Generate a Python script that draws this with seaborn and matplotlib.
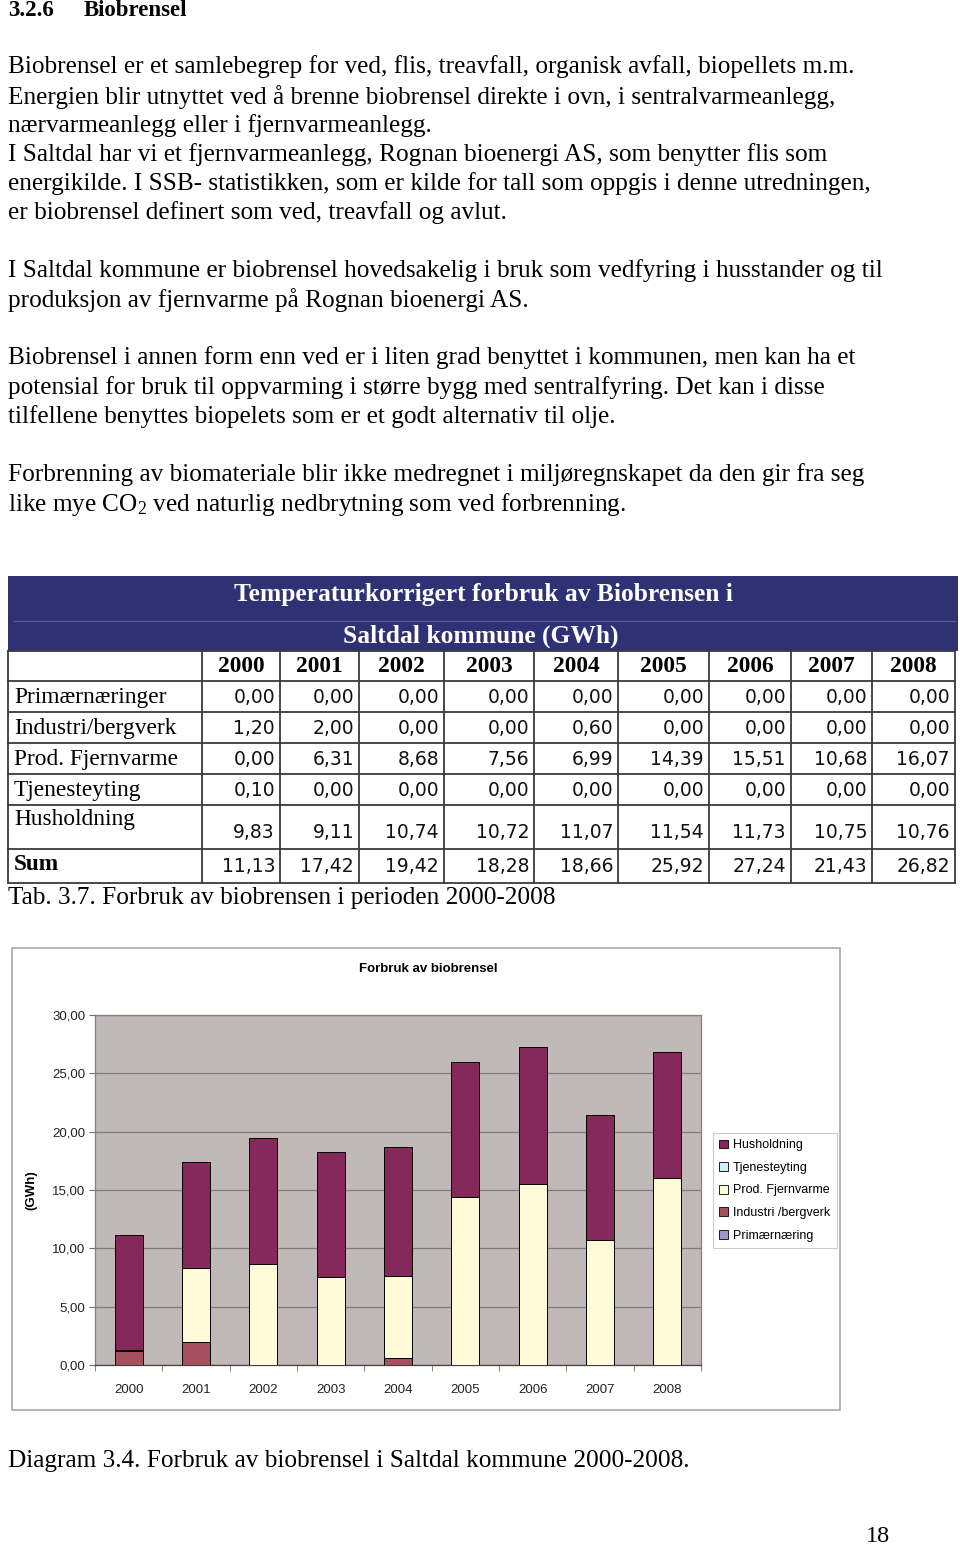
import numpy as np
import pandas as pd
import matplotlib
matplotlib.use("Agg")
import matplotlib.pyplot as plt
import seaborn as sns
from matplotlib.patches import Rectangle, Patch

# ---------------- data ----------------
years = ["2000", "2001", "2002", "2003", "2004", "2005", "2006", "2007", "2008"]
primaernaring = [0.00, 0.00, 0.00, 0.00, 0.00, 0.00, 0.00, 0.00, 0.00]
industri = [1.20, 2.00, 0.00, 0.00, 0.60, 0.00, 0.00, 0.00, 0.00]
fjernvarme = [0.00, 6.31, 8.68, 7.56, 6.99, 14.39, 15.51, 10.68, 16.07]
tjenesteyting = [0.10, 0.00, 0.00, 0.00, 0.00, 0.00, 0.00, 0.00, 0.00]
husholdning = [9.83, 9.11, 10.74, 10.72, 11.07, 11.54, 11.73, 10.75, 10.76]
sums = [11.13, 17.42, 19.42, 18.28, 18.66, 25.92, 27.24, 21.43, 26.82]

table_labels = ["Primærnæringer", "Industri/bergverk", "Prod. Fjernvarme",
                "Tjenesteyting", "Husholdning"]
legend_labels = ["Primærnæring", "Industri /bergverk", "Prod. Fjernvarme",
                 "Tjenesteyting", "Husholdning"]
yticks = [0, 5, 10, 15, 20, 25, 30]

heading_num = "3.2.6"
heading = "Biobrensel"
paragraph_lines = [
    "Biobrensel er et samlebegrep for ved, flis, treavfall, organisk avfall, biopellets m.m.",
    "Energien blir utnyttet ved å brenne biobrensel direkte i ovn, i sentralvarmeanlegg,",
    "nærvarmeanlegg eller i fjernvarmeanlegg.",
    "I Saltdal har vi et fjernvarmeanlegg, Rognan bioenergi AS, som benytter flis som",
    "energikilde. I SSB- statistikken, som er kilde for tall som oppgis i denne utredningen,",
    "er biobrensel definert som ved, treavfall og avlut.",
    "I Saltdal kommune er biobrensel hovedsakelig i bruk som vedfyring i husstander og til",
    "produksjon av fjernvarme på Rognan bioenergi AS.",
    "Biobrensel i annen form enn ved er i liten grad benyttet i kommunen, men kan ha et",
    "potensial for bruk til oppvarming i større bygg med sentralfyring. Det kan i disse",
    "tilfellene benyttes biopelets som er et godt alternativ til olje.",
    "Forbrenning av biomateriale blir ikke medregnet i miljøregnskapet da den gir fra seg",
    "like mye CO$_{2}$ ved naturlig nedbrytning som ved forbrenning.",
]
table_title1 = "Temperaturkorrigert forbruk av Biobrensen i"
table_title2 = "Saltdal kommune (GWh)"
table_caption = "Tab. 3.7. Forbruk av biobrensen i perioden 2000-2008"
chart_title = "Forbruk av biobrensel"
y_label = "(GWh)"
diagram_caption = "Diagram 3.4. Forbruk av biobrensel i Saltdal kommune 2000-2008."
page_number = "18"

# ---------------- styles / layout ----------------
plt.rcParams["mathtext.fontset"] = "custom"
plt.rcParams["mathtext.rm"] = "Liberation Serif"
plt.rcParams["mathtext.it"] = "Liberation Serif"
SERIF = ["Liberation Serif", "DejaVu Serif"]
SANS = ["Liberation Sans", "DejaVu Sans"]
NUM = ["DejaVu Sans"]

colors = {"Primærnæring": "#9c98cc", "Industri /bergverk": "#a64f5f",
          "Prod. Fjernvarme": "#fffbd8", "Tjenesteyting": "#cdeefa",
          "Husholdning": "#85295a"}

W, H = 960, 1548
fig = plt.figure(figsize=(W / 100, H / 100), dpi=100)
page = fig.add_axes([0, 0, 1, 1])
page.set_xlim(0, W)
page.set_ylim(H, 0)
page.axis("off")

# heading and paragraphs
page.text(8, 10, heading_num, family=SERIF, weight="bold", fontsize=16.5, va="center")
page.text(84, 10, heading, family=SERIF, weight="bold", fontsize=16.5, va="center")
line_y = [67, 97, 126, 155, 184, 213, 271, 300, 358, 388, 417, 475, 504]
for yy, s in zip(line_y, paragraph_lines):
    page.text(8, yy, s, family=SERIF, fontsize=18.2, va="center")

# ---------------- table ----------------
col_edges = [8, 202, 280, 359, 444, 534, 618, 709, 791, 872, 955]
row_edges = [651, 681, 712, 743, 774, 805, 849, 883]
page.add_patch(Rectangle((8, 576), 950, 651 - 576, fc="#2e3173", ec="none"))
page.plot([14, 955], [621, 621], color="#5c609a", lw=0.8)
page.text(483, 594, table_title1, family=SERIF, weight="bold", fontsize=18.4,
          color="white", ha="center", va="center")
page.text(481, 636, table_title2, family=SERIF, weight="bold", fontsize=18.4,
          color="white", ha="center", va="center")
grid_col = "#3a3a3a"
for xe in col_edges:
    page.plot([xe, xe], [row_edges[0], row_edges[-1]], color=grid_col, lw=1.3)
for ye in row_edges:
    page.plot([col_edges[0], col_edges[-1]], [ye, ye], color=grid_col, lw=1.3)

# year header
for i, yr in enumerate(years):
    cx = (col_edges[i + 1] + col_edges[i + 2]) / 2
    page.text(cx, (row_edges[0] + row_edges[1]) / 2 + 1, yr, family=SERIF,
              weight="bold", fontsize=16.8, ha="center", va="center")

def fmt(v):
    return f"{v:.2f}".replace(".", ",")

series_rows = [primaernaring, industri, fjernvarme, tjenesteyting, husholdning]
for r, (lab, vals) in enumerate(zip(table_labels, series_rows)):
    top, bot = row_edges[r + 1], row_edges[r + 2]
    if lab == "Husholdning":
        ly, ny = top + 15, bot - 16
    else:
        ly = ny = (top + bot) / 2 + 1
    page.text(14, ly, lab, family=SERIF, fontsize=16.8, va="center")
    for i, v in enumerate(vals):
        page.text(col_edges[i + 2] - 5, ny, fmt(v), family=NUM, fontsize=13.5,
                  ha="right", va="center", color="#111111")
top, bot = row_edges[-2], row_edges[-1]
page.text(14, (top + bot) / 2 - 1, "Sum", family=SERIF, weight="bold", fontsize=16.8,
          va="center")
for i, v in enumerate(sums):
    page.text(col_edges[i + 2] - 5, (top + bot) / 2 + 1, fmt(v), family=NUM,
              fontsize=13.5, ha="right", va="center", color="#111111")

page.text(8, 898, table_caption, family=SERIF, fontsize=18.2, va="center")

# ---------------- chart ----------------
page.add_patch(Rectangle((12, 948), 828, 462, fill=False, ec="#a8a8a8", lw=1.2))
page.text(8, 1461, diagram_caption, family=SERIF, fontsize=18.2, va="center")
page.text(878, 1537, page_number, family=SERIF, fontsize=17.5, ha="center", va="center")

ax = fig.add_axes([95 / W, 1 - 1365 / H, 606 / W, 350 / H])
ax.set_facecolor("#c1b9b8")
df = pd.DataFrame({"year": years, "Primærnæring": primaernaring,
                   "Industri /bergverk": industri, "Prod. Fjernvarme": fjernvarme,
                   "Tjenesteyting": tjenesteyting, "Husholdning": husholdning})
bottom = np.zeros(len(years))
for lab in legend_labels:
    sns.barplot(data=df, x="year", y=lab, bottom=bottom, color=colors[lab],
                saturation=1, edgecolor="black", linewidth=0.7, width=0.42,
                errorbar=None, ax=ax, zorder=3)
    bottom = bottom + df[lab].to_numpy()

ax.set_ylim(0, 30)
ax.set_xlim(-0.5, len(years) - 0.5)
ax.set_yticks(yticks)
ax.set_yticklabels([fmt(t) for t in yticks], family=SANS, fontsize=9.5)
ax.set_xticks(range(len(years)))
ax.set_xticklabels(years, family=SANS, fontsize=9.5)
ax.set_xticks(np.arange(-0.5, len(years)), minor=True)
ax.tick_params(axis="x", which="major", length=0, pad=14, colors="#222222")
ax.tick_params(axis="x", which="minor", length=4, color="#707070")
ax.tick_params(axis="y", length=4, color="#707070", colors="#222222", pad=3)
ax.set_xlabel("")
ax.set_ylabel(y_label, family=SANS, fontsize=9.5, weight="bold")
ax.yaxis.set_label_coords((37 - 95) / 606, 0.5)
ax.yaxis.grid(True, color="#7c7c7c", lw=0.9, zorder=0)
ax.set_axisbelow(True)
for sp in ax.spines.values():
    sp.set_color("#808080")
    sp.set_linewidth(0.9)
ax.spines["bottom"].set_color("#404040")

ax.text((428 - 95) / 606, (1365 - 969) / 350, chart_title, transform=ax.transAxes,
        family=SANS, weight="bold", fontsize=9.5, ha="center", va="center")

handles = [Patch(fc=colors[l], ec="black", lw=0.6) for l in legend_labels[::-1]]
leg = ax.legend(handles, legend_labels[::-1], loc="upper left",
                bbox_to_anchor=((713 - 95) / 606, (1365 - 1133) / 350),
                borderaxespad=0, frameon=True, fancybox=False,
                handlelength=0.7, handleheight=0.7, handletextpad=0.4,
                labelspacing=0.85, borderpad=0.5, prop={"family": SANS, "size": 9})
leg.get_frame().set_edgecolor("#c0c0c0")
leg.get_frame().set_linewidth(0.8)

fig.savefig("out.png", dpi=100)
